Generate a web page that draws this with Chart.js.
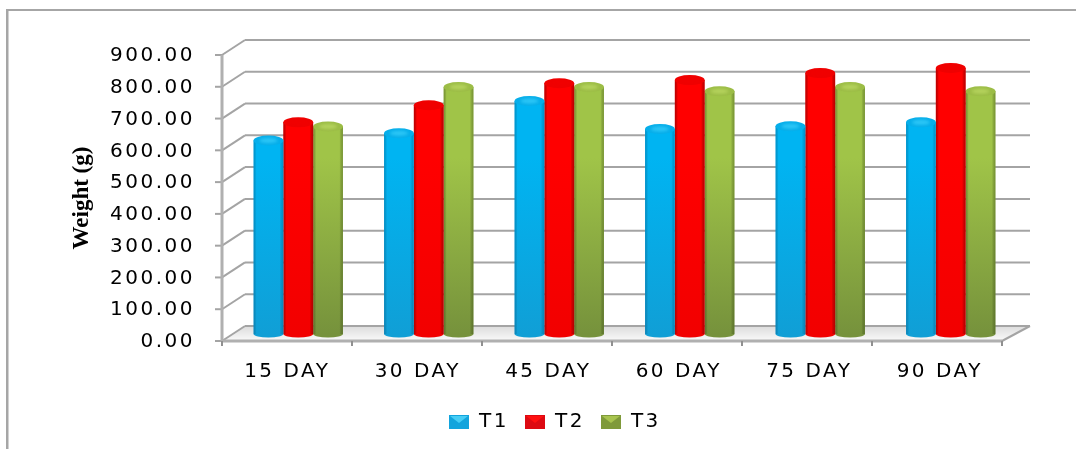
<!DOCTYPE html>
<html>
<head>
<meta charset="utf-8">
<style>
html, body { margin: 0; padding: 0; background: #fff; }
canvas { display: block; filter: blur(0.4px); }
</style>
</head>
<body>
<canvas id="weightChart" width="1076" height="449"></canvas>
<script src="https://cdn.jsdelivr.net/npm/chart.js@4/dist/chart.umd.min.js"></script>
<script>
const categories = ['15 DAY', '30 DAY', '45 DAY', '60 DAY', '75 DAY', '90 DAY'];
const t1Values = [609, 632, 733, 645, 654, 666];
const t2Values = [666, 720, 789, 799, 821, 837];
const t3Values = [653, 777, 777, 764, 777, 764];
const yLabels = ['0.00', '100.00', '200.00', '300.00', '400.00', '500.00', '600.00', '700.00', '800.00', '900.00'];

const barStyles = [
    { top: '#00b4f2', bottom: '#109fd6', cap: '#2cc6f6', rim: '#06aeea', edge: 'rgba(0,70,120,0.3)', flap: '#46cdf5', swatch: '#12a4dd' },
    { top: '#ff0000', bottom: '#f20000', cap: '#f00000', rim: '#f00000', edge: 'rgba(110,0,0,0.45)', flap: '#ff1010', swatch: '#dd0a12' },
    { top: '#a0c448', bottom: '#76923c', cap: '#b4d25c', rim: '#9cbd46', edge: 'rgba(60,80,20,0.4)', flap: '#a8c44f', swatch: '#7f9a3a' }
];

// the bars stand half way into the box, so front and back are shifted from the scale
const front = { x: -11, y: 7 };
const back = { x: 12, y: -8 };
const labelSpacing = '2.5px';

function gridLine(ctx, x1, y1, x2, y2) {
    ctx.beginPath();
    ctx.moveTo(x1, y1);
    ctx.lineTo(x2, y2);
    ctx.stroke();
}

const boxPlugin = {
    id: 'box3d',
    beforeLayout(chart) {
        chart.ctx.letterSpacing = labelSpacing;
    },
    afterLayout(chart) {
        const legend = chart.legend;
        const w = legend.right - legend.left;
        legend.left = 433;
        legend.right = legend.left + w;
        legend.top -= 7;
        // the axis title is not spaced out like the tick labels, and sits a bit lower
        const y = chart.scales.y;
        const drawTitle = y.drawTitle;
        y.drawTitle = function () {
            const ctx = chart.ctx;
            ctx.save();
            ctx.letterSpacing = '0px';
            ctx.translate(0, 7);
            drawTitle.apply(y, arguments);
            ctx.restore();
        };
    },
    beforeDraw(chart) {
        const ctx = chart.ctx;
        ctx.letterSpacing = labelSpacing;
        ctx.save();
        ctx.fillStyle = '#fff';
        ctx.fillRect(0, 0, chart.width, chart.height);
        // outer frame
        ctx.fillStyle = '#a6a6a6';
        ctx.fillRect(6, 9, 1070, 2);
        ctx.fillRect(6, 9, 2.5, 440);
        ctx.restore();
    },
    beforeDatasetsDraw(chart) {
        const ctx = chart.ctx;
        const { x, y } = chart.scales;
        const left = x.left;
        const right = x.right;
        const frontRight = right + front.x - 3;
        const backRight = right + back.x + 2;
        const y0 = y.getPixelForValue(0);
        ctx.save();
        // floor
        const floor = ctx.createLinearGradient(0, y0 + back.y, 0, y0 + front.y);
        floor.addColorStop(0, '#dcdcdc');
        floor.addColorStop(1, '#fafafa');
        ctx.fillStyle = floor;
        ctx.beginPath();
        ctx.moveTo(left + front.x, y0 + front.y);
        ctx.lineTo(left + back.x, y0 + back.y);
        ctx.lineTo(backRight, y0 + back.y);
        ctx.lineTo(frontRight, y0 + front.y);
        ctx.closePath();
        ctx.fill();
        // wall lines and side wall lines
        ctx.lineWidth = 2;
        ctx.strokeStyle = '#a4a4a4';
        y.ticks.forEach(t => {
            const py = y.getPixelForValue(t.value);
            gridLine(ctx, left + back.x, py + back.y, backRight, py + back.y);
            gridLine(ctx, left + front.x, py + front.y, left + back.x, py + back.y);
            gridLine(ctx, left + front.x - 7, py + front.y, left + front.x, py + front.y);
        });
        gridLine(ctx, frontRight, y0 + front.y, backRight, y0 + back.y);
        // front axes
        ctx.lineWidth = 3;
        ctx.strokeStyle = '#b0b0b0';
        gridLine(ctx, left + front.x, y.getPixelForValue(900) + front.y, left + front.x, y0 + front.y + 1);
        gridLine(ctx, left + front.x, y0 + front.y, frontRight, y0 + front.y);
        ctx.lineWidth = 2;
        ctx.strokeStyle = '#909090';
        for (let i = 0; i <= categories.length; i++) {
            const px = left + front.x + (frontRight - left - front.x) * i / categories.length;
            gridLine(ctx, px, y0 + front.y, px, y0 + front.y + 5);
        }
        ctx.restore();
    },
    afterDatasetDraw(chart, args) {
        const ctx = chart.ctx;
        const style = barStyles[args.index];
        args.meta.data.forEach(bar => {
            const hw = bar.width / 2;
            const l = bar.x - hw;
            const r = bar.x + hw;
            const ry = 5;
            ctx.save();
            // round bottom
            ctx.fillStyle = style.bottom;
            ctx.beginPath();
            ctx.ellipse(bar.x, bar.base, hw, 3.5, 0, 0, Math.PI);
            ctx.fill();
            // side shading
            const g = ctx.createLinearGradient(l, 0, r, 0);
            g.addColorStop(0, style.edge);
            g.addColorStop(0.1, 'rgba(0,0,0,0)');
            g.addColorStop(0.88, 'rgba(0,0,0,0)');
            g.addColorStop(1, style.edge);
            ctx.fillStyle = g;
            ctx.fillRect(l, bar.y, r - l, bar.base - bar.y);
            // cap
            ctx.fillStyle = style.rim;
            ctx.beginPath();
            ctx.ellipse(bar.x, bar.y, hw, ry, 0, 0, Math.PI * 2);
            ctx.fill();
            ctx.filter = 'blur(1.5px)';
            ctx.fillStyle = style.cap;
            ctx.beginPath();
            ctx.ellipse(bar.x, bar.y, hw - 6, ry - 2.5, 0, 0, Math.PI * 2);
            ctx.fill();
            ctx.restore();
        });
    }
};

function legendSwatch(style) {
    const c = document.createElement('canvas');
    c.width = 20;
    c.height = 14;
    const g = c.getContext('2d');
    g.fillStyle = style.swatch;
    g.fillRect(0, 0, 20, 14);
    g.fillStyle = style.flap;
    g.beginPath();
    g.moveTo(1, 1);
    g.lineTo(19, 1);
    g.lineTo(10, 8);
    g.closePath();
    g.fill();
    return c;
}

function barFill(i) {
    return context => {
        const area = context.chart.chartArea;
        if (!area) return barStyles[i].top;
        const g = context.chart.ctx.createLinearGradient(0, area.top + 110, 0, area.bottom);
        g.addColorStop(0, barStyles[i].top);
        g.addColorStop(1, barStyles[i].bottom);
        return g;
    };
}

const labelFont = { family: '"DejaVu Sans"', size: 20 };

new Chart(document.getElementById('weightChart'), {
    type: 'bar',
    data: {
        labels: categories,
        datasets: [
            { label: 'T1', data: t1Values, backgroundColor: barFill(0), pointStyle: legendSwatch(barStyles[0]) },
            { label: 'T2', data: t2Values, backgroundColor: barFill(1), pointStyle: legendSwatch(barStyles[1]) },
            { label: 'T3', data: t3Values, backgroundColor: barFill(2), pointStyle: legendSwatch(barStyles[2]) }
        ]
    },
    options: {
        responsive: false,
        animation: false,
        devicePixelRatio: 1,
        layout: { padding: { top: 48, right: 60, bottom: 0, left: 0 } },
        datasets: { bar: { categoryPercentage: 0.685, barPercentage: 1 } },
        scales: {
            x: {
                grid: { display: false },
                border: { display: false },
                afterFit(scale) { scale.height = 69; },
                ticks: { color: '#000', font: labelFont, padding: 18, labelOffset: front.x, maxRotation: 0, autoSkip: false }
            },
            y: {
                min: 0,
                max: 900,
                grid: { display: false },
                border: { display: false },
                afterFit(scale) { scale.width = 233; },
                ticks: {
                    color: '#000',
                    font: labelFont,
                    stepSize: 100,
                    padding: 30,
                    labelOffset: front.y + 1,
                    callback: (value, i) => yLabels[i]
                },
                title: {
                    display: true,
                    text: 'Weight (g)',
                    color: '#000',
                    font: { family: '"Liberation Serif"', size: 23, weight: 'bold' },
                    padding: { top: 68, bottom: 0 }
                }
            }
        },
        plugins: {
            tooltip: { enabled: false },
            legend: {
                position: 'bottom',
                align: 'start',
                labels: { usePointStyle: true, pointStyleWidth: 20, color: '#000', font: labelFont, padding: 16 }
            }
        }
    },
    plugins: [boxPlugin]
});
</script>
</body>
</html>
